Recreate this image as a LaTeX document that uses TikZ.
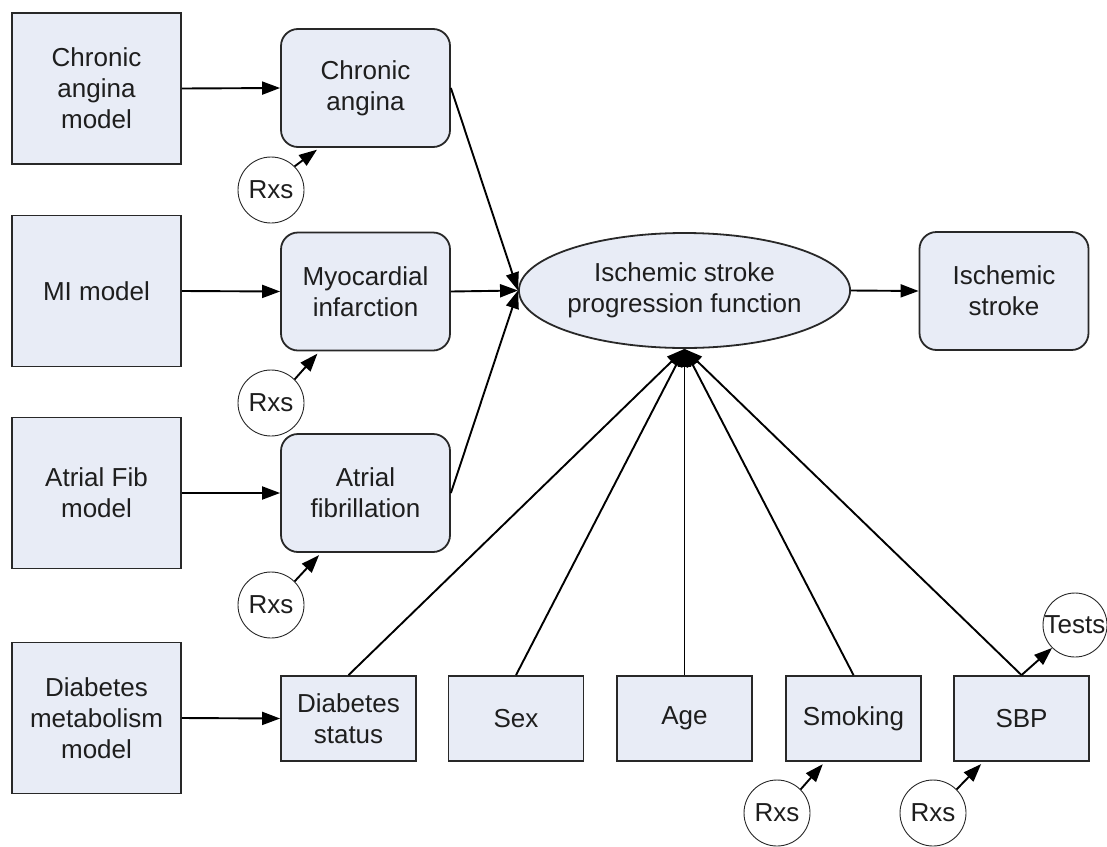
\documentclass[tikz,border=0pt]{standalone}
\usepackage{fontspec}
\setmainfont{Liberation Sans}
\usetikzlibrary{arrows.meta,calc,shapes.geometric}
\definecolor{boxfill}{RGB}{232,236,246}
\definecolor{boxline}{RGB}{40,40,40}
\definecolor{ink}{RGB}{30,30,30}
\begin{document}
\begin{tikzpicture}[x=1pt,y=-1pt,
  every node/.style={font=\fontsize{26}{31}\selectfont, text=ink, align=center, inner sep=0pt},
  model/.style={draw=boxline, line width=1.8pt, fill=boxfill, minimum width=169pt, minimum height=151pt},
  state/.style={draw=boxline, line width=1.8pt, fill=boxfill, rounded corners=17pt, minimum width=169pt, minimum height=118pt},
  factor/.style={draw=boxline, line width=1.8pt, fill=boxfill, minimum width=135pt, minimum height=85pt},
  rx/.style={circle, draw=boxline, line width=0.9pt, fill=white, minimum size=66pt},
  link/.style={line width=1.9pt, draw=black, -{Triangle[length=18pt,width=13pt]}}]
\useasboundingbox (0,0) rectangle (1107,846);

% source models
\node[model] (cam) at (96.5,88.5) {Chronic\\angina\\model};
\node[model] (mim) at (96.5,291) {MI model};
\node[model] (afm) at (96.5,493) {Atrial Fib\\model};
\node[model] (dmm) at (96.5,718) {Diabetes\\metabolism\\model};

% disease states
\node[state] (ca) at (365.5,88) {Chronic\\angina};
\node[state] (mi) at (365.5,291.5) {Myocardial\\infarction};
\node[state] (af) at (365.5,493) {Atrial\\fibrillation};

% progression function and outcome
\node[ellipse, draw=boxline, line width=1.8pt, fill=boxfill, minimum width=303pt, minimum height=115pt]
  (isf) at (684.5,290.5) {Ischemic stroke\\progression function};
\node[state] (is) at (1004,291) {Ischemic\\stroke};

% risk factors
\node[factor] (ds) at (348.5,718.5) {Diabetes\\status};
\node[factor] (sex) at (516,718.5) {Sex};
\node[factor] (age) at (684.5,718.5) {Age};
\node[factor] (smk) at (853.5,718.5) {Smoking};
\node[factor] (sbp) at (1021.5,718.5) {SBP};

% treatments and tests
\node[rx] (rx1) at (271,190) {Rxs};
\node[rx] (rx2) at (271,403) {Rxs};
\node[rx] (rx3) at (271,605) {Rxs};
\node[rx] (rx4) at (777,813) {Rxs};
\node[rx] (rx5) at (933,813) {Rxs};
\node[rx, minimum size=64pt] (tests) at (1075,625) {Tests};

% model outputs
\draw[link] (cam.east) -- (ca.west);
\draw[link] (mim.east) -- (mi.west);
\draw[link] (afm.east) -- (af.west);
\draw[link] (dmm.east) -- (ds.west);

% disease states into the progression function
\draw[link] (ca.east) -- (isf.west);
\draw[link] (mi.east) -- (isf.west);
\draw[link] (af.east) -- (isf.west);
\draw[link] (isf.east) -- (is.west);

% risk factors into the progression function
\foreach \f in {ds,sex,age,smk,sbp}
  \draw[link] (\f.north) -- (isf.south);

% treatment effects
\draw[link, shorten >=3pt] (rx1.45) -- ($(ca.south west)!0.23!(ca.south east)$);
\draw[link, shorten >=3pt] (rx2.45) -- ($(mi.south west)!0.23!(mi.south east)$);
\draw[link, shorten >=3pt] (rx3.45) -- ($(af.south west)!0.24!(af.south east)$);
\draw[link, shorten >=3pt] (rx4.45) -- ($(smk.south west)!0.29!(smk.south east)$);
\draw[link, shorten >=3pt] (rx5.45) -- ($(sbp.south west)!0.22!(sbp.south east)$);
\draw[link] (sbp.north) -- (tests.225);
\end{tikzpicture}
\end{document}
